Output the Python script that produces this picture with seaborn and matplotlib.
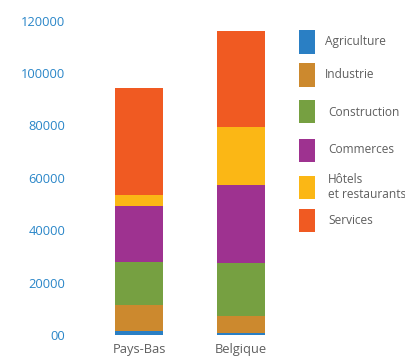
import matplotlib
matplotlib.use("Agg")
import matplotlib.pyplot as plt
from matplotlib.patches import Rectangle
import numpy as np
import pandas as pd
import seaborn as sns

countries = ["Pays-Bas", "Belgique"]
sectors = ["Agriculture", "Industrie", "Construction", "Commerces",
           "Hôtels\net restaurants", "Services"]
agriculture = [1500, 800]
industrie = [10000, 6500]
construction = [16400, 20200]
commerces = [21400, 29800]
hotels = [4200, 22200]
services = [40900, 36700]
y_ticks = [0, 20000, 40000, 60000, 80000, 100000, 120000]
y_tick_labels = ["00", "20000", "40000", "60000", "80000", "100000", "120000"]

colors = ["#2a7fc4", "#cc892e", "#76a041", "#9e3290", "#fbb715", "#f05a22"]

sns.set_theme(style="white")
plt.rcParams["font.family"] = ["Open Sans", "DejaVu Sans"]

values = np.array([agriculture, industrie, construction, commerces, hotels, services])
cumulative = values.cumsum(axis=0)

W, H = 406, 358
fig = plt.figure(figsize=(W / 100, H / 100), dpi=100)
ax = fig.add_axes([80 / W, 1 - 335 / H, 210 / W, (335 - 20.6) / H])

# stacked bars: draw cumulative totals from the top segment down
for i in range(len(sectors) - 1, -1, -1):
    df = pd.DataFrame({"pays": countries, "valeur": cumulative[i]})
    sns.barplot(data=df, x="pays", y="valeur", order=countries, color=colors[i],
                saturation=1, width=0.47, ax=ax, errorbar=None, linewidth=0)

ax.set_xlim(-0.578, 1.481)
ax.set_ylim(0, 120000)
ax.set_yticks(y_ticks)
ax.set_yticklabels(y_tick_labels)
ax.set_xlabel("")
ax.set_ylabel("")
for s in ax.spines.values():
    s.set_visible(False)
ax.tick_params(axis="y", length=0, pad=10.5, labelsize=9.3, labelcolor="#2a86c8")
ax.tick_params(axis="x", length=0, pad=6, labelsize=9.3, labelcolor="#5f5f5f")

# legend
legend_rows = [42, 75, 112, 150, 187, 220]
text_x = [325, 325, 328, 328, 328, 328]
for label, color, yc, tx in zip(sectors, colors, legend_rows, text_x):
    fig.patches.append(Rectangle((299 / W, 1 - (yc + 11.5) / H), 16 / W, 23 / H,
                                 transform=fig.transFigure, facecolor=color,
                                 edgecolor="none"))
    fig.text(tx / W, 1 - yc / H, label, ha="left", va="center", fontsize=8.6,
             color="#5f5f5f", linespacing=1.25)

fig.savefig("out.png", dpi=100)
